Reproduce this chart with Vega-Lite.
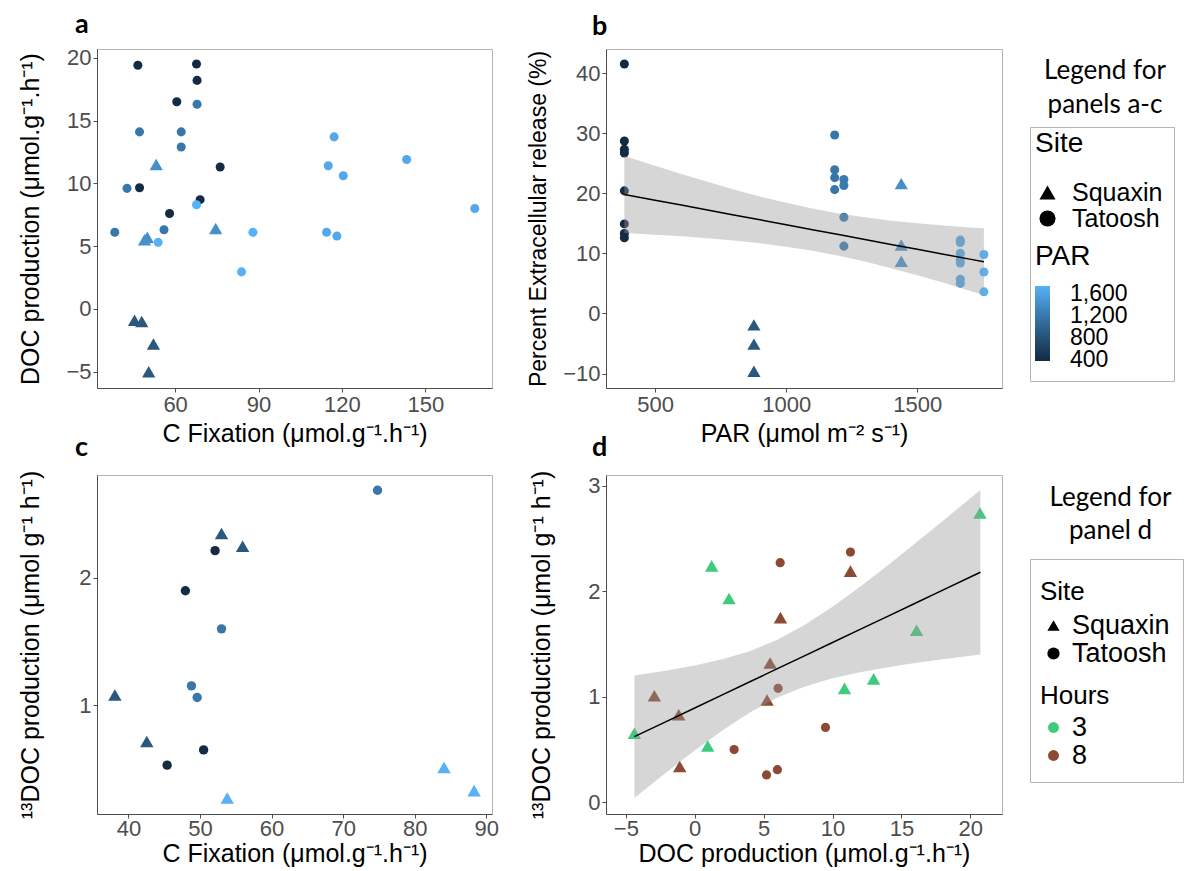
{
  "$schema": "https://vega.github.io/schema/vega-lite/v6.json",
  "background": "white",
  "padding": {"left": 18, "top": 10, "right": 0, "bottom": 0},
  "config": {
    "font": "Liberation Sans",
    "view": {"stroke": "#b5b5b5", "strokeWidth": 1},
    "axis": {"grid": false, "domainColor": "#4d4d4d", "tickColor": "#4d4d4d", "tickSize": 4, "labelColor": "#4d4d4d", "labelFontSize": 22, "titleFontSize": 25, "titleColor": "black", "titleFontWeight": "normal", "labelFont": "Liberation Sans", "titleFont": "Liberation Sans", "labelPadding": 2, "labelFlush": false, "labelOverlap": false},
    "legend": {"labelFont": "Liberation Sans", "titleFont": "Liberation Sans", "titleFontWeight": "normal", "titleColor": "black", "labelColor": "black", "labelOverlap": false}
  },
  "datasets": {
    "pa": [
      {"cfix": 46.6, "doc": 19.4, "site": "Tatoosh", "par": 380},
      {"cfix": 67.7, "doc": 19.5, "site": "Tatoosh", "par": 380},
      {"cfix": 67.9, "doc": 18.2, "site": "Tatoosh", "par": 380},
      {"cfix": 60.6, "doc": 16.5, "site": "Tatoosh", "par": 380},
      {"cfix": 67.9, "doc": 16.3, "site": "Tatoosh", "par": 1200},
      {"cfix": 47.2, "doc": 14.1, "site": "Tatoosh", "par": 1200},
      {"cfix": 62.2, "doc": 14.1, "site": "Tatoosh", "par": 1200},
      {"cfix": 62.2, "doc": 12.9, "site": "Tatoosh", "par": 1200},
      {"cfix": 117.2, "doc": 13.7, "site": "Tatoosh", "par": 1670},
      {"cfix": 143.3, "doc": 11.9, "site": "Tatoosh", "par": 1670},
      {"cfix": 115.1, "doc": 11.4, "site": "Tatoosh", "par": 1670},
      {"cfix": 120.5, "doc": 10.6, "site": "Tatoosh", "par": 1670},
      {"cfix": 76.2, "doc": 11.3, "site": "Tatoosh", "par": 380},
      {"cfix": 53.2, "doc": 11.5, "site": "Squaxin", "par": 1439},
      {"cfix": 42.7, "doc": 9.6, "site": "Tatoosh", "par": 1200},
      {"cfix": 47.2, "doc": 9.65, "site": "Tatoosh", "par": 380},
      {"cfix": 69.0, "doc": 8.7, "site": "Tatoosh", "par": 380},
      {"cfix": 67.7, "doc": 8.3, "site": "Tatoosh", "par": 1754},
      {"cfix": 167.8, "doc": 8.0, "site": "Tatoosh", "par": 1670},
      {"cfix": 58.0, "doc": 7.6, "site": "Tatoosh", "par": 380},
      {"cfix": 38.3, "doc": 6.1, "site": "Tatoosh", "par": 1200},
      {"cfix": 56.0, "doc": 6.3, "site": "Tatoosh", "par": 1200},
      {"cfix": 74.6, "doc": 6.4, "site": "Squaxin", "par": 1439},
      {"cfix": 49.0, "doc": 5.5, "site": "Squaxin", "par": 1439},
      {"cfix": 50.0, "doc": 5.7, "site": "Squaxin", "par": 1439},
      {"cfix": 53.9, "doc": 5.3, "site": "Tatoosh", "par": 1754},
      {"cfix": 88.0, "doc": 6.1, "site": "Tatoosh", "par": 1754},
      {"cfix": 114.5, "doc": 6.1, "site": "Tatoosh", "par": 1670},
      {"cfix": 118.2, "doc": 5.8, "site": "Tatoosh", "par": 1670},
      {"cfix": 83.9, "doc": 2.95, "site": "Tatoosh", "par": 1754},
      {"cfix": 45.4, "doc": -0.9, "site": "Squaxin", "par": 877},
      {"cfix": 48.0, "doc": -1.0, "site": "Squaxin", "par": 877},
      {"cfix": 52.2, "doc": -2.8, "site": "Squaxin", "par": 877},
      {"cfix": 50.5, "doc": -5.0, "site": "Squaxin", "par": 877}
    ],
    "pb": [
      {"par": 383, "per": 41.5, "site": "Tatoosh"},
      {"par": 383, "per": 28.7, "site": "Tatoosh"},
      {"par": 383, "per": 27.3, "site": "Tatoosh"},
      {"par": 383, "per": 26.7, "site": "Tatoosh"},
      {"par": 383, "per": 20.4, "site": "Tatoosh"},
      {"par": 383, "per": 14.9, "site": "Tatoosh"},
      {"par": 383, "per": 13.3, "site": "Tatoosh"},
      {"par": 383, "per": 12.6, "site": "Tatoosh"},
      {"par": 1185, "per": 29.7, "site": "Tatoosh"},
      {"par": 1185, "per": 23.9, "site": "Tatoosh"},
      {"par": 1185, "per": 22.6, "site": "Tatoosh"},
      {"par": 1185, "per": 20.6, "site": "Tatoosh"},
      {"par": 1220, "per": 22.3, "site": "Tatoosh"},
      {"par": 1220, "per": 21.3, "site": "Tatoosh"},
      {"par": 1220, "per": 16.0, "site": "Tatoosh"},
      {"par": 1220, "per": 11.2, "site": "Tatoosh"},
      {"par": 877, "per": -1.9, "site": "Squaxin"},
      {"par": 877, "per": -5.1, "site": "Squaxin"},
      {"par": 877, "per": -9.6, "site": "Squaxin"},
      {"par": 1439, "per": 21.6, "site": "Squaxin"},
      {"par": 1439, "per": 11.4, "site": "Squaxin"},
      {"par": 1439, "per": 8.7, "site": "Squaxin"},
      {"par": 1664, "per": 12.2, "site": "Tatoosh"},
      {"par": 1664, "per": 11.8, "site": "Tatoosh"},
      {"par": 1664, "per": 10.0, "site": "Tatoosh"},
      {"par": 1664, "per": 8.9, "site": "Tatoosh"},
      {"par": 1664, "per": 8.4, "site": "Tatoosh"},
      {"par": 1664, "per": 5.7, "site": "Tatoosh"},
      {"par": 1664, "per": 5.0, "site": "Tatoosh"},
      {"par": 1754, "per": 9.8, "site": "Tatoosh"},
      {"par": 1754, "per": 6.9, "site": "Tatoosh"},
      {"par": 1754, "per": 3.6, "site": "Tatoosh"}
    ],
    "bandb": [
      {"par": 383, "lo": 13.40, "hi": 26.20, "fit": 19.80},
      {"par": 500, "lo": 13.11, "hi": 24.57, "fit": 18.84},
      {"par": 600, "lo": 12.85, "hi": 23.21, "fit": 18.03},
      {"par": 700, "lo": 12.52, "hi": 21.90, "fit": 17.21},
      {"par": 800, "lo": 12.14, "hi": 20.64, "fit": 16.39},
      {"par": 900, "lo": 11.69, "hi": 19.47, "fit": 15.58},
      {"par": 1000, "lo": 11.12, "hi": 18.40, "fit": 14.76},
      {"par": 1100, "lo": 10.43, "hi": 17.45, "fit": 13.94},
      {"par": 1200, "lo": 9.61, "hi": 16.65, "fit": 13.13},
      {"par": 1300, "lo": 8.63, "hi": 15.99, "fit": 12.31},
      {"par": 1400, "lo": 7.54, "hi": 15.44, "fit": 11.49},
      {"par": 1500, "lo": 6.36, "hi": 15.00, "fit": 10.68},
      {"par": 1600, "lo": 5.09, "hi": 14.63, "fit": 9.86},
      {"par": 1700, "lo": 3.76, "hi": 14.32, "fit": 9.04},
      {"par": 1754, "lo": 3.03, "hi": 14.17, "fit": 8.60}
    ],
    "pc": [
      {"cfix": 74.8, "doc13": 2.69, "site": "Tatoosh", "par": 1200},
      {"cfix": 53.0, "doc13": 2.35, "site": "Squaxin", "par": 877},
      {"cfix": 55.95, "doc13": 2.25, "site": "Squaxin", "par": 877},
      {"cfix": 52.1, "doc13": 2.215, "site": "Tatoosh", "par": 380},
      {"cfix": 47.95, "doc13": 1.90, "site": "Tatoosh", "par": 380},
      {"cfix": 53.0, "doc13": 1.60, "site": "Tatoosh", "par": 1200},
      {"cfix": 48.8, "doc13": 1.152, "site": "Tatoosh", "par": 1200},
      {"cfix": 49.6, "doc13": 1.06, "site": "Tatoosh", "par": 1200},
      {"cfix": 38.1, "doc13": 1.08, "site": "Squaxin", "par": 877},
      {"cfix": 42.56, "doc13": 0.714, "site": "Squaxin", "par": 877},
      {"cfix": 50.5, "doc13": 0.648, "site": "Tatoosh", "par": 380},
      {"cfix": 45.4, "doc13": 0.528, "site": "Tatoosh", "par": 380},
      {"cfix": 53.8, "doc13": 0.27, "site": "Squaxin", "par": 1754},
      {"cfix": 84.1, "doc13": 0.51, "site": "Squaxin", "par": 1754},
      {"cfix": 88.3, "doc13": 0.328, "site": "Squaxin", "par": 1754}
    ],
    "pd": [
      {"doc": -4.38, "doc13": 0.654, "site": "Squaxin", "hours": "3"},
      {"doc": 1.23, "doc13": 2.24, "site": "Squaxin", "hours": "3"},
      {"doc": 2.49, "doc13": 1.93, "site": "Squaxin", "hours": "3"},
      {"doc": 0.94, "doc13": 0.534, "site": "Squaxin", "hours": "3"},
      {"doc": 10.87, "doc13": 1.08, "site": "Squaxin", "hours": "3"},
      {"doc": 12.98, "doc13": 1.17, "site": "Squaxin", "hours": "3"},
      {"doc": 16.1, "doc13": 1.63, "site": "Squaxin", "hours": "3"},
      {"doc": 20.7, "doc13": 2.74, "site": "Squaxin", "hours": "3"},
      {"doc": -2.93, "doc13": 1.01, "site": "Squaxin", "hours": "8"},
      {"doc": -1.16, "doc13": 0.83, "site": "Squaxin", "hours": "8"},
      {"doc": -1.09, "doc13": 0.34, "site": "Squaxin", "hours": "8"},
      {"doc": 5.47, "doc13": 1.32, "site": "Squaxin", "hours": "8"},
      {"doc": 5.25, "doc13": 0.97, "site": "Squaxin", "hours": "8"},
      {"doc": 6.22, "doc13": 1.75, "site": "Squaxin", "hours": "8"},
      {"doc": 11.3, "doc13": 2.19, "site": "Squaxin", "hours": "8"},
      {"doc": 6.2, "doc13": 2.27, "site": "Tatoosh", "hours": "8"},
      {"doc": 11.3, "doc13": 2.37, "site": "Tatoosh", "hours": "8"},
      {"doc": 6.05, "doc13": 1.08, "site": "Tatoosh", "hours": "8"},
      {"doc": 9.49, "doc13": 0.71, "site": "Tatoosh", "hours": "8"},
      {"doc": 2.86, "doc13": 0.50, "site": "Tatoosh", "hours": "8"},
      {"doc": 5.21, "doc13": 0.26, "site": "Tatoosh", "hours": "8"},
      {"doc": 6.0, "doc13": 0.31, "site": "Tatoosh", "hours": "8"}
    ],
    "bandd": [
      {"doc": -4.38, "lo": 0.042, "hi": 1.202, "fit": 0.622},
      {"doc": -2, "lo": 0.291, "hi": 1.249, "fit": 0.770},
      {"doc": 0, "lo": 0.492, "hi": 1.296, "fit": 0.894},
      {"doc": 2, "lo": 0.681, "hi": 1.355, "fit": 1.018},
      {"doc": 4, "lo": 0.852, "hi": 1.432, "fit": 1.142},
      {"doc": 6, "lo": 0.992, "hi": 1.540, "fit": 1.266},
      {"doc": 8, "lo": 1.098, "hi": 1.682, "fit": 1.390},
      {"doc": 10, "lo": 1.175, "hi": 1.853, "fit": 1.514},
      {"doc": 12, "lo": 1.233, "hi": 2.043, "fit": 1.638},
      {"doc": 14, "lo": 1.280, "hi": 2.244, "fit": 1.762},
      {"doc": 16, "lo": 1.319, "hi": 2.453, "fit": 1.886},
      {"doc": 18, "lo": 1.355, "hi": 2.665, "fit": 2.010},
      {"doc": 20.73, "lo": 1.400, "hi": 2.958, "fit": 2.179}
    ],
    "spacer": [{"k": 1}]
  },
  "resolve": {"scale": {"color": "independent", "shape": "independent", "size": "independent"}},
  "spacing": 26,
  "hconcat": [
    {
      "spacing": 27,
      "resolve": {"scale": {"color": "independent", "shape": "independent", "size": "independent"}},
      "hconcat": [
        {
          "vconcat": [
            {
              "width": 395, "height": 339,
              "title": {"text": "a", "anchor": "start", "frame": "group", "dx": -22, "offset": 8, "fontSize": 27, "fontWeight": "bold", "font": "Lato", "color": "black"},
              "data": {"name": "pa"},
              "mark": {"type": "point", "filled": true, "opacity": 1},
              "encoding": {
                "x": {"field": "cfix", "type": "quantitative", "scale": {"domain": [31.9, 174], "nice": false, "zero": false}, "axis": {"values": [60, 90, 120, 150], "titlePadding": 6, "title": "C Fixation (μmol.g⁻¹.h⁻¹)"}},
                "y": {"field": "doc", "type": "quantitative", "scale": {"domain": [-6.3, 20.7], "nice": false, "zero": false}, "axis": {"values": [-5, 0, 5, 10, 15, 20], "titlePadding": 22, "title": "DOC production (μmol.g⁻¹.h⁻¹)"}},
                "color": {"field": "par", "type": "quantitative", "scale": {"type": "linear", "domain": [380, 1754], "range": ["#132B43", "#56B1F7"], "interpolate": "lab"}, "legend": null},
                "shape": {"field": "site", "type": "nominal", "scale": {"domain": ["Squaxin", "Tatoosh"], "range": ["triangle-up", "circle"]}, "legend": null},
                "size": {"field": "site", "type": "nominal", "scale": {"type": "ordinal", "domain": ["Squaxin", "Tatoosh"], "range": [175, 82]}, "legend": null}
              }
            },
            {
              "width": 395, "height": 339,
              "title": {"text": "c", "anchor": "start", "frame": "group", "dx": -22, "offset": 8, "fontSize": 27, "fontWeight": "bold", "font": "Lato", "color": "black"},
              "data": {"name": "pc"},
              "mark": {"type": "point", "filled": true, "opacity": 1},
              "encoding": {
                "x": {"field": "cfix", "type": "quantitative", "scale": {"domain": [35.6, 90.8], "nice": false, "zero": false}, "axis": {"values": [40, 50, 60, 70, 80, 90], "labelPadding": 0, "titlePadding": 2, "title": "C Fixation (μmol.g⁻¹.h⁻¹)"}},
                "y": {"field": "doc13", "type": "quantitative", "scale": {"domain": [0.144, 2.81], "nice": false, "zero": false}, "axis": {"values": [1, 2], "format": "d", "titlePadding": 35, "title": "¹³DOC production (μmol g⁻¹ h⁻¹)"}},
                "color": {"field": "par", "type": "quantitative", "scale": {"type": "linear", "domain": [380, 1754], "range": ["#132B43", "#56B1F7"], "interpolate": "lab"}, "legend": null},
                "shape": {"field": "site", "type": "nominal", "scale": {"domain": ["Squaxin", "Tatoosh"], "range": ["triangle-up", "circle"]}, "legend": null},
                "size": {"field": "site", "type": "nominal", "scale": {"type": "ordinal", "domain": ["Squaxin", "Tatoosh"], "range": [180, 88]}, "legend": null}
              }
            }
          ],
          "spacing": 87,
          "bounds": "flush",
          "resolve": {"scale": {"color": "independent", "shape": "independent", "size": "independent"}}
        },
        {
          "vconcat": [
            {
              "width": 396, "height": 339,
              "title": {"text": "b", "anchor": "start", "frame": "group", "dx": -14, "offset": 8, "fontSize": 27, "fontWeight": "bold", "font": "Lato", "color": "black"},
              "encoding": {
                "x": {"field": "par", "type": "quantitative", "scale": {"domain": [313, 1823], "nice": false, "zero": false}, "axis": {"values": [500, 1000, 1500], "format": "d", "titlePadding": 6, "title": "PAR (μmol m⁻² s⁻¹)"}}
              },
              "layer": [
                {
                  "data": {"name": "pb"},
                  "mark": {"type": "point", "filled": true, "opacity": 1},
                  "encoding": {
                    "y": {"field": "per", "type": "quantitative", "scale": {"domain": [-12.4, 44], "nice": false, "zero": false}, "axis": {"values": [-10, 0, 10, 20, 30, 40], "titlePadding": 12, "titleFontSize": 23}, "title": "Percent Extracellular release (%)"},
                    "color": {"field": "par", "type": "quantitative", "scale": {"type": "linear", "domain": [380, 1754], "range": ["#132B43", "#56B1F7"], "interpolate": "lab"}, "legend": null},
                    "shape": {"field": "site", "type": "nominal", "scale": {"domain": ["Squaxin", "Tatoosh"], "range": ["triangle-up", "circle"]}, "legend": null},
                    "size": {"field": "site", "type": "nominal", "scale": {"type": "ordinal", "domain": ["Squaxin", "Tatoosh"], "range": [175, 82]}, "legend": null}
                  }
                },
                {
                  "data": {"name": "bandb"},
                  "mark": {"type": "area", "color": "#999999", "opacity": 0.4},
                  "encoding": {
                    "y": {"field": "hi", "type": "quantitative", "scale": {"domain": [-12.4, 44], "nice": false, "zero": false}, "title": "Percent Extracellular release (%)"},
                    "y2": {"field": "lo"}
                  }
                },
                {
                  "data": {"name": "bandb"},
                  "mark": {"type": "line", "color": "black", "strokeWidth": 1.5},
                  "encoding": {
                    "y": {"field": "fit", "type": "quantitative", "scale": {"domain": [-12.4, 44], "nice": false, "zero": false}, "title": "Percent Extracellular release (%)"}
                  }
                }
              ]
            },
            {
              "width": 396, "height": 339,
              "title": {"text": "d", "anchor": "start", "frame": "group", "dx": -14, "offset": 8, "fontSize": 27, "fontWeight": "bold", "font": "Lato", "color": "black"},
              "encoding": {
                "x": {"field": "doc", "type": "quantitative", "scale": {"domain": [-6.44, 22.3], "nice": false, "zero": false}, "axis": {"values": [-5, 0, 5, 10, 15, 20], "labelPadding": 0, "titlePadding": 2, "title": "DOC production (μmol.g⁻¹.h⁻¹)"}}
              },
              "layer": [
                {
                  "data": {"name": "pd"},
                  "mark": {"type": "point", "filled": true, "opacity": 1},
                  "encoding": {
                    "y": {"field": "doc13", "type": "quantitative", "scale": {"domain": [-0.11, 3.1], "nice": false, "zero": false}, "axis": {"values": [0, 1, 2, 3], "format": "d", "titlePadding": 33}, "title": "¹³DOC production (μmol g⁻¹ h⁻¹)"},
                    "color": {"field": "hours", "type": "nominal", "scale": {"domain": ["3", "8"], "range": ["#3FCB7C", "#8C4A34"]}, "legend": null},
                    "shape": {"field": "site", "type": "nominal", "scale": {"domain": ["Squaxin", "Tatoosh"], "range": ["triangle-up", "circle"]}, "legend": null},
                    "size": {"field": "site", "type": "nominal", "scale": {"type": "ordinal", "domain": ["Squaxin", "Tatoosh"], "range": [180, 85]}, "legend": null}
                  }
                },
                {
                  "data": {"name": "bandd"},
                  "mark": {"type": "area", "color": "#999999", "opacity": 0.4},
                  "encoding": {
                    "y": {"field": "hi", "type": "quantitative", "scale": {"domain": [-0.11, 3.1], "nice": false, "zero": false}, "title": "¹³DOC production (μmol g⁻¹ h⁻¹)"},
                    "y2": {"field": "lo"}
                  }
                },
                {
                  "data": {"name": "bandd"},
                  "mark": {"type": "line", "color": "black", "strokeWidth": 1.5},
                  "encoding": {
                    "y": {"field": "fit", "type": "quantitative", "scale": {"domain": [-0.11, 3.1], "nice": false, "zero": false}, "title": "¹³DOC production (μmol g⁻¹ h⁻¹)"}
                  }
                }
              ]
            }
          ],
          "spacing": 87,
          "bounds": "flush",
          "resolve": {"scale": {"color": "independent", "shape": "independent", "size": "independent"}}
        }
      ]
    },
    {
      "spacing": 102,
      "resolve": {"scale": {"color": "independent", "shape": "independent", "size": "independent"}},
      "vconcat": [
        {
          "spacing": 7,
          "resolve": {"scale": {"color": "independent", "shape": "independent", "size": "independent"}},
          "vconcat": [
            {
              "width": 144, "height": 1,
              "view": {"stroke": null},
              "data": {"name": "spacer"},
              "mark": {"type": "point", "size": 0, "opacity": 0},
              "encoding": {}
            },
            {
              "width": 144, "height": 254,
              "title": {"text": ["Legend for", "panels a-c"], "anchor": "middle", "frame": "group", "dx": 3, "font": "Lato", "fontSize": 26, "fontWeight": "normal", "lineHeight": 34, "offset": 9, "color": "black"},
              "data": {"name": "pa"},
              "layer": [
                {
                  "mark": {"type": "point", "filled": true, "color": "black", "size": 0, "opacity": 1},
                  "encoding": {
                    "x": {"datum": 0.5, "type": "quantitative", "scale": {"domain": [0, 1]}, "axis": null},
                    "y": {"datum": 0.5, "type": "quantitative", "scale": {"domain": [0, 1]}, "axis": null},
                    "shape": {"field": "site", "type": "nominal", "scale": {"domain": ["Squaxin", "Tatoosh"], "range": ["triangle-up", "circle"]}, "legend": {"title": "Site", "orient": "none", "legendX": 5, "legendY": 3, "padding": 0, "titleFontSize": 28, "titlePadding": 22, "labelFontSize": 25, "labelOffset": 12, "symbolSize": 260, "rowPadding": 0, "symbolStrokeWidth": 0}}
                  }
                },
                {
                  "mark": {"type": "point", "filled": true, "size": 0, "opacity": 1},
                  "encoding": {
                    "x": {"datum": 0.5, "type": "quantitative", "scale": {"domain": [0, 1]}, "axis": null},
                    "y": {"datum": 0.5, "type": "quantitative", "scale": {"domain": [0, 1]}, "axis": null},
                    "color": {"field": "par", "type": "quantitative", "scale": {"type": "linear", "domain": [380, 1754], "range": ["#132B43", "#56B1F7"], "interpolate": "lab"}, "legend": {"title": "PAR", "orient": "none", "legendX": 5, "legendY": 116, "padding": 0, "titleFontSize": 28, "titlePadding": 15, "labelFontSize": 23, "values": [400, 800, 1200, 1600], "labelExpr": "format(datum.value, ',')", "gradientLength": 75, "gradientThickness": 15, "labelOffset": 20, "gradientStrokeWidth": 0}}
                  }
                }
              ]
            }
          ]
        },
        {
          "width": 153, "height": 223,
          "title": {"text": ["Legend for", "panel d"], "anchor": "middle", "frame": "group", "dx": 4, "font": "Lato", "fontSize": 26, "fontWeight": "normal", "lineHeight": 33, "offset": 15, "color": "black"},
          "data": {"name": "pd"},
          "layer": [
            {
              "mark": {"type": "point", "filled": true, "color": "black", "size": 0, "opacity": 1},
              "encoding": {
                "x": {"datum": 0.5, "type": "quantitative", "scale": {"domain": [0, 1]}, "axis": null},
                "y": {"datum": 0.5, "type": "quantitative", "scale": {"domain": [0, 1]}, "axis": null},
                "shape": {"field": "site", "type": "nominal", "scale": {"domain": ["Squaxin", "Tatoosh"], "range": ["triangle-up", "circle"]}, "legend": {"title": "Site", "orient": "none", "legendX": 10, "legendY": 20, "padding": 0, "titleFontSize": 26, "titlePadding": 7, "labelFontSize": 27, "labelOffset": 5, "symbolSize": 150, "rowPadding": 0, "symbolStrokeWidth": 0}}
              }
            },
            {
              "mark": {"type": "point", "filled": true, "size": 0, "opacity": 1},
              "encoding": {
                "x": {"datum": 0.5, "type": "quantitative", "scale": {"domain": [0, 1]}, "axis": null},
                "y": {"datum": 0.5, "type": "quantitative", "scale": {"domain": [0, 1]}, "axis": null},
                "color": {"field": "hours", "type": "nominal", "scale": {"domain": ["3", "8"], "range": ["#3FCB7C", "#8C4A34"]}, "legend": {"title": "Hours", "orient": "none", "legendX": 10, "legendY": 124, "padding": 0, "titleFontSize": 26, "titlePadding": 5, "labelFontSize": 27, "labelOffset": 5, "symbolSize": 120, "symbolType": "circle", "rowPadding": 0, "symbolStrokeWidth": 0}}
              }
            }
          ]
        }
      ]
    }
  ]
}
